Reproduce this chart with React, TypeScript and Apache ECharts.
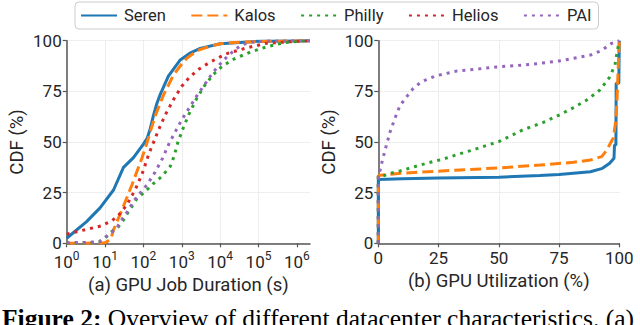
import React, { useEffect, useRef } from "react";
import * as echarts from "echarts";

// ---- Data ----
const SERIES_NAMES = ["Seren", "Kalos", "Philly", "Helios", "PAI"];
const SERIES_COLORS = ["#1f77b4", "#ff7f0e", "#2ca02c", "#d62728", "#9467bd"];

// (a) GPU job duration (seconds) vs CDF (%)
const durSeren = [[1, 2.5], [3.3, 10.7], [7.4, 17.5], [16.6, 26.3], [30.2, 37.5], [55, 42.3], [100, 49], [126, 52], [148, 56], [182, 63], [224, 69], [275, 73.5], [447, 82.5], [912, 90.5], [1585, 93.7], [3020, 96.2], [10000, 98.5], [100000, 99.7], [2200000, 100]];
const durKalos = [[1, 0], [3.2, 0], [10, 0.3], [14.1, 2], [16.6, 6.6], [27.5, 16.4], [50.1, 28.8], [91.2, 42], [123, 49.5], [145, 54], [204, 63], [331, 73], [603, 83], [1000, 88.5], [1349, 91.3], [2455, 95], [4074, 96.5], [10000, 98.5], [18620, 99], [100000, 99.6], [2200000, 100]];
const durPhilly = [[1, 0], [3.16, 0.2], [7.08, 0.8], [10, 2.5], [14.8, 5.7], [22.4, 8.2], [30.2, 11.5], [40.7, 15.6], [67.6, 22], [110, 25.5], [182, 29.5], [302, 33], [501, 38], [631, 43], [794, 50], [1096, 57], [1514, 63.5], [2455, 71.5], [3981, 78], [6761, 83.5], [10000, 86.5], [19953, 90.5], [63096, 94.5], [165959, 97], [457088, 99], [1258925, 99.8], [2200000, 100]];
const durHelios = [[1, 4.5], [3.16, 6.8], [7.94, 8.6], [14.8, 11], [22.4, 13.8], [37.2, 19], [63.1, 27], [95.5, 35], [141, 44.5], [204, 52], [282, 58.5], [398, 64.5], [631, 71.5], [1000, 77.5], [1585, 82], [2818, 86], [5012, 89], [10000, 92], [15849, 93.8], [50119, 96.5], [158489, 98.7], [1000000, 99.7], [2200000, 100]];
const durPAI = [[1, 0.3], [3.16, 0.4], [7.08, 0.8], [13.5, 4.9], [20, 7.5], [27.5, 11.8], [40.7, 16.4], [56.2, 21], [79.4, 24.5], [123, 28.8], [200, 35], [316, 42], [447, 48.5], [631, 54], [1000, 61], [1585, 67], [2512, 73], [3981, 78.5], [6310, 84], [10000, 88.5], [14125, 91.5], [22387, 95], [35481, 97.8], [63096, 99.3], [158489, 99.8], [2200000, 100]];

// (b) GPU utilization (%) vs CDF (%)
const utilSeren = [[0, 0], [0, 31.5], [10, 31.8], [25, 32.2], [50, 32.6], [67, 33.5], [75, 34], [88, 35.3], [93, 37], [96, 39.5], [97.8, 42], [98, 48.5], [98.6, 48.5], [98.7, 79], [99.8, 79], [100, 100]];
const utilKalos = [[0, 0], [0, 33.5], [10, 34.6], [25, 35.6], [50, 37.2], [67, 38.6], [81, 40], [88, 41.1], [92.7, 42.8], [94.8, 46], [96.6, 50], [97.5, 52], [98.5, 60], [99, 70], [99.5, 85], [100, 100]];
const utilPhilly = [[0, 0], [0, 33], [1.4, 33], [5, 34.5], [9, 35.7], [15, 37.8], [21, 39.8], [27, 41.6], [33, 43.9], [39, 46], [45.5, 48.5], [50, 50.2], [60, 56], [68.5, 59.7], [75.4, 63.5], [81, 67], [86.5, 70.7], [92, 75.7], [96, 82], [98.2, 88], [99.2, 95], [100, 100]];
const utilHelios: number[][] = [];
const utilPAI = [[0, 0], [0, 33], [0.7, 36], [1.4, 39.5], [2.8, 46], [4.9, 55], [6.9, 61.7], [9, 68], [11.8, 72.4], [14.5, 76.5], [18, 79.8], [24, 82.7], [32.5, 85], [41, 86], [49, 87], [60, 88], [67, 88.8], [75, 90], [81, 91.3], [88, 92.9], [92.7, 95.2], [96.8, 98.7], [100, 100]];

const DUR_DATA = [durSeren, durKalos, durPhilly, durHelios, durPAI];
const UTIL_DATA = [utilSeren, utilKalos, utilPhilly, utilHelios, utilPAI];

const DUR_TICKS = [1, 10, 100, 1000, 10000, 100000, 1000000];

const X_TITLE_A = "(a) GPU Job Duration (s)";
const X_TITLE_B = "(b) GPU Utilization (%)";
const Y_TITLE = "CDF (%)";
const CAPTION_BOLD = "Figure 2:";
const CAPTION_TEXT = " Overview of different datacenter characteristics. (a)";

const FONT = "Roboto";
const TEXT_COLOR = "#262626";
const AXIS_COLOR = "#555555";

const LINE_TYPES: any[] = ["solid", [11, 5], [3, 5], [3, 5], [3, 5]];

export default function App() {
  const ref = useRef<HTMLDivElement>(null);

  useEffect(() => {
    if (!ref.current) return;
    const chart = echarts.init(ref.current, undefined, { renderer: "svg" });

    const axisLine = { show: true, onZero: false, lineStyle: { color: AXIS_COLOR, width: 1.5 } };
    const axisTick = { show: true, length: 4, lineStyle: { color: AXIS_COLOR, width: 1.2 } };
    const splitLine = { show: true, showMaxLine: false, lineStyle: { color: "#dddddd", type: "dotted", width: 1 } };
    const tickLabel = { fontSize: 17, color: TEXT_COLOR, fontFamily: FONT, margin: 5 };
    const nameStyle = { fontSize: 18.5, color: TEXT_COLOR, fontFamily: FONT };

    const yAxisBase = (gridIndex: number) => ({
      gridIndex,
      type: "value",
      min: 0,
      max: 100,
      interval: 25,
      axisLine,
      axisTick,
      axisLabel: { ...tickLabel, lineHeight: 14 },
      splitLine: { ...splitLine, showMaxLine: true },
      name: Y_TITLE,
      nameLocation: "middle",
      nameGap: 40,
      nameTextStyle: nameStyle,
    });

    const series: any[] = [];
    [0, 1].forEach((gi) => {
      SERIES_NAMES.forEach((name, i) => {
        const data = gi === 0 ? DUR_DATA[i] : UTIL_DATA[i];
        series.push({
          type: "line",
          name,
          xAxisIndex: gi,
          yAxisIndex: gi,
          data,
          symbol: "none",
          showSymbol: false,
          color: SERIES_COLORS[i],
          lineStyle: { color: SERIES_COLORS[i], width: 3, type: LINE_TYPES[i], cap: "butt" },
          z: 2 + i,
        });
      });
    });

    const option: any = {
      animation: false,
      backgroundColor: "#ffffff",
      textStyle: { fontFamily: FONT },
      legend: {
        data: SERIES_NAMES,
        left: 75,
        top: 2,
        itemWidth: 36,
        itemHeight: 12,
        itemGap: 24.5,
        padding: [5, 7, 5, 5],
        borderColor: "#cccccc",
        borderWidth: 1,
        borderRadius: 4,
        backgroundColor: "#ffffff",
        itemStyle: { opacity: 0 },
        textStyle: { fontSize: 16.5, color: TEXT_COLOR, fontFamily: FONT, padding: [0, 0, 0, 2] },
      },
      grid: [
        { left: 66.7, top: 40.7, width: 243.3, height: 202.6 },
        { left: 378.3, top: 40.7, width: 241, height: 202.6 },
      ],
      xAxis: [
        {
          gridIndex: 0,
          type: "log",
          logBase: 10,
          min: 1,
          max: 2200000,
          axisLine,
          axisTick: { ...axisTick, customValues: DUR_TICKS },
          axisLabel: {
            ...tickLabel,
            margin: 7,
            customValues: DUR_TICKS,
            formatter: (v: number) => `{b|10}{s|${Math.round(Math.log10(v))}}`,
            rich: {
              b: { fontSize: 17, color: TEXT_COLOR, fontFamily: FONT, lineHeight: 20, verticalAlign: "bottom" },
              s: { fontSize: 12, color: TEXT_COLOR, fontFamily: FONT, lineHeight: 12, verticalAlign: "top" },
            },
          },
          splitLine,
          name: X_TITLE_A,
          nameLocation: "middle",
          nameGap: 24,
          nameTextStyle: nameStyle,
        },
        {
          gridIndex: 1,
          type: "value",
          min: 0,
          max: 100,
          interval: 25,
          axisLine,
          axisTick,
          axisLabel: { ...tickLabel, margin: 6 },
          splitLine,
          name: X_TITLE_B,
          nameLocation: "middle",
          nameGap: 24,
          nameTextStyle: nameStyle,
        },
      ],
      yAxis: [yAxisBase(0), yAxisBase(1)],
      series,
      graphic: [
        {
          type: "text",
          left: 2,
          top: 305,
          style: {
            text: `{b|${CAPTION_BOLD}}${CAPTION_TEXT}`,
            fontFamily: "Liberation Serif",
            fontSize: 25.5,
            fill: "#000000",
            rich: {
              b: { fontFamily: "Liberation Serif", fontSize: 25.5, fontWeight: "bold", fill: "#000000" },
            },
          },
        },
      ],
    };

    chart.setOption(option);
    return () => chart.dispose();
  }, []);

  return (
    <div
      ref={ref}
      style={{ position: "absolute", left: 0, top: 0, width: 640, height: 325 }}
    />
  );
}
